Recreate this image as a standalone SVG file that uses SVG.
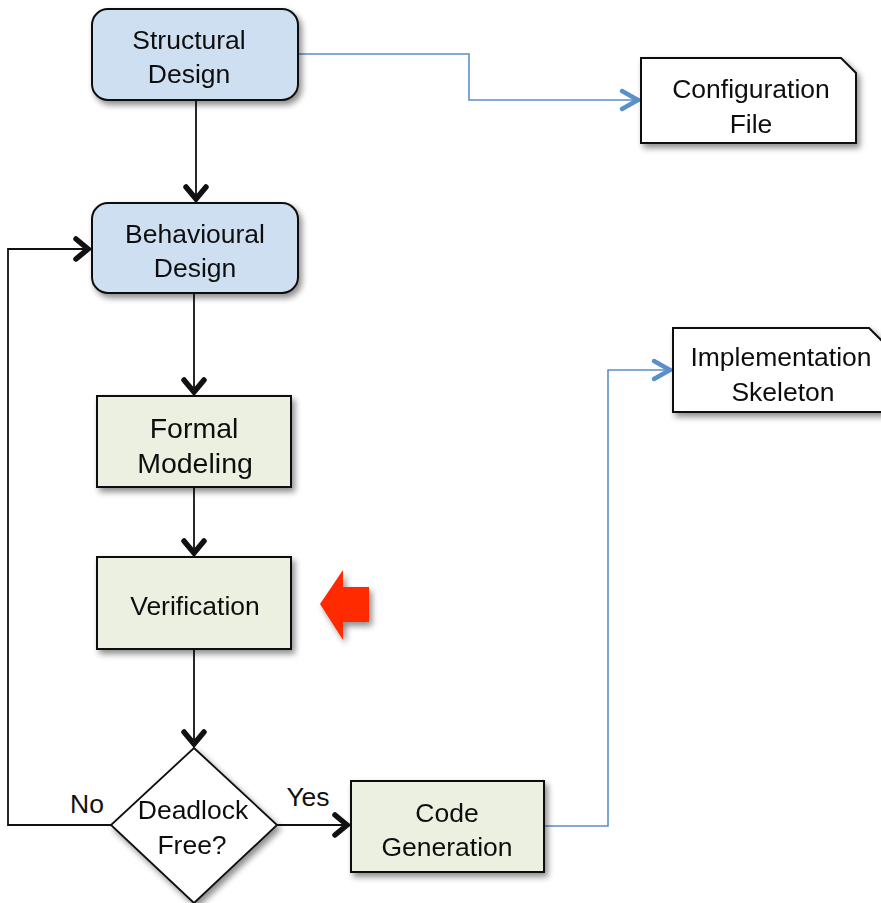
<svg xmlns="http://www.w3.org/2000/svg" width="881" height="903" viewBox="0 0 881 903">
  <style>
    text { font-family: "Liberation Sans", "Open Sans", sans-serif; font-size: 26.5px; fill: #111; text-anchor: middle; }
    .big { font-size: 28.5px; }
    .blue { fill: #cfdff2; stroke: #111; stroke-width: 2; }
    .green { fill: #ebf0e1; stroke: #111; stroke-width: 2; }
    .doc { fill: #ffffff; stroke: #111; stroke-width: 2; }
    .flow { fill: none; stroke: #111; stroke-width: 1.8; }
    .data { fill: none; stroke: #5b8fc9; stroke-width: 1.6; }
  </style>
  <defs>
    <filter id="shadow" x="-10%" y="-10%" width="130%" height="140%">
      <feGaussianBlur in="SourceAlpha" stdDeviation="3"/>
      <feOffset dx="3" dy="4" result="b"/>
      <feComponentTransfer><feFuncA type="linear" slope="0.45"/></feComponentTransfer>
      <feMerge><feMergeNode/><feMergeNode in="SourceGraphic"/></feMerge>
    </filter>
    <!-- open chevron heads, sized in user units -->
    <marker id="chev" markerUnits="userSpaceOnUse" viewBox="-20 -16 24 32" markerWidth="24" markerHeight="32" refX="0" refY="0" orient="auto">
      <path d="M-14,-10 L-2,0 L-14,10" fill="none" stroke="#111" stroke-width="5.5" stroke-linecap="round" stroke-linejoin="miter"/>
    </marker>
    <marker id="chevBlue" markerUnits="userSpaceOnUse" viewBox="-22 -16 26 32" markerWidth="26" markerHeight="32" refX="0" refY="0" orient="auto">
      <path d="M-18,-9 L-2,0 L-18,9" fill="none" stroke="#5b8fc9" stroke-width="4.5" stroke-linecap="round"/>
    </marker>
  </defs>

  <g id="connectors">
    <path class="flow" d="M196,100 V201" marker-end="url(#chev)"/>
    <path class="flow" d="M194,294 V394" marker-end="url(#chev)"/>
    <path class="flow" d="M194,487 V555" marker-end="url(#chev)"/>
    <path class="flow" d="M194,650 V746" marker-end="url(#chev)"/>
    <path class="flow" d="M111,825 H8 V249 H90" marker-end="url(#chev)"/>
    <path class="flow" d="M277,825 H349" marker-end="url(#chev)"/>
    <path class="data" d="M299,54 H469 V100 H640" marker-end="url(#chevBlue)"/>
    <path class="data" d="M545,826 H608 V370 H672" marker-end="url(#chevBlue)"/>
  </g>

  <g id="structural-design" filter="url(#shadow)">
    <rect class="blue" x="92" y="9" width="206" height="91" rx="16"/>
    <text x="189" y="49">Structural</text>
    <text x="189" y="83">Design</text>
  </g>

  <g id="behavioural-design" filter="url(#shadow)">
    <rect class="blue" x="92" y="203" width="206" height="90" rx="16"/>
    <text x="195" y="243">Behavioural</text>
    <text x="195" y="277">Design</text>
  </g>

  <g id="formal-modeling" filter="url(#shadow)">
    <rect class="green" x="97" y="396" width="194" height="91"/>
    <text class="big" x="194" y="438">Formal</text>
    <text class="big" x="195" y="473">Modeling</text>
  </g>

  <g id="verification" filter="url(#shadow)">
    <rect class="green" x="97" y="557" width="194" height="92"/>
    <text x="195" y="615">Verification</text>
  </g>

  <g id="deadlock-free" filter="url(#shadow)">
    <polygon class="doc" points="194,748 277,825 194,903 111,825" style="stroke-width:1.8"/>
    <text x="193" y="819">Deadlock</text>
    <text x="192" y="854">Free?</text>
  </g>

  <g id="code-generation" filter="url(#shadow)">
    <rect class="green" x="351" y="781" width="193" height="91"/>
    <text x="447" y="822">Code</text>
    <text x="447" y="856">Generation</text>
  </g>

  <g id="configuration-file" filter="url(#shadow)">
    <path class="doc" d="M641,58 H841 L856,73 V143 H641 Z"/>
    <text x="751" y="98">Configuration</text>
    <text x="751" y="133">File</text>
  </g>

  <g id="implementation-skeleton" filter="url(#shadow)">
    <path class="doc" d="M673,328 H869 L884,343 V412 H673 Z"/>
    <text x="781" y="366">Implementation</text>
    <text x="783" y="401">Skeleton</text>
  </g>

  <g id="labels">
    <text x="87" y="813">No</text>
    <text x="308" y="806">Yes</text>
  </g>

  <g id="focus-arrow" filter="url(#shadow)">
    <polygon points="320,604 343,570 343,587 369,587 369,622 343,622 343,640" fill="#ff2a00"/>
  </g>
</svg>
